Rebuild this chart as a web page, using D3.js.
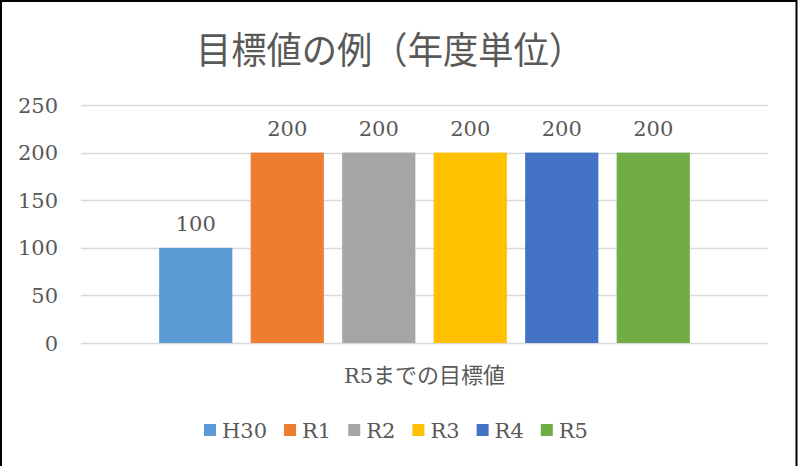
<!DOCTYPE html>
<html>
<head>
<meta charset="utf-8">
<script src="https://d3js.org/d3.v7.min.js"></script>
</head>
<body style="margin:0; background:#fff">
<div id="chart"></div>
<script>
// data
var categories = ["R5までの目標値"];
var series = ["H30", "R1", "R2", "R3", "R4", "R5"];
var values = [100, 200, 200, 200, 200, 200];
var colors = ["#5b9bd5", "#ed7d31", "#a5a5a5", "#ffc000", "#4472c4", "#70ad47"];
var yTicks = [0, 50, 100, 150, 200, 250];

var W = 798, H = 466;
var plot = {left: 81, right: 768, top: 105, bottom: 343};
var serif = "DejaVu Serif";
var jp = "Noto Sans CJK JP";
var textColor = "#595959";

var svg = d3.select("#chart").append("svg")
	.attr("width", W)
	.attr("height", H);

// outer border
svg.append("rect")
	.attr("x", 1).attr("y", 1)
	.attr("width", W - 2.5).attr("height", H + 5)
	.attr("fill", "#fff")
	.attr("stroke", "#000")
	.attr("stroke-width", 2);

// title
svg.append("text")
	.attr("x", 390)
	.attr("y", 64)
	.attr("text-anchor", "middle")
	.attr("font-family", jp)
	.attr("font-size", 37)
	.attr("fill", textColor)
	.attr("textLength", 388)
	.attr("lengthAdjust", "spacingAndGlyphs")
	.text("目標値の例（年度単位）");

var y = d3.scaleLinear().domain([0, 250]).range([plot.bottom, plot.top]);

var x0 = d3.scaleBand().domain(categories)
	.range([plot.left, plot.right])
	.paddingInner(0).paddingOuter(0.1257);

var x1 = d3.scaleBand().domain(series)
	.range([0, x0.bandwidth()])
	.paddingInner(0.2).paddingOuter(0.1);

// grid lines
svg.append("g").selectAll("line")
	.data(yTicks)
	.enter().append("line")
	.attr("x1", plot.left).attr("x2", plot.right)
	.attr("y1", function(d) { return Math.round(y(d)) + 0.5; })
	.attr("y2", function(d) { return Math.round(y(d)) + 0.5; })
	.attr("stroke", "#d9d9d9")
	.attr("stroke-width", 1.5);

// y axis labels
svg.append("g").selectAll("text")
	.data(yTicks)
	.enter().append("text")
	.attr("x", 58)
	.attr("y", function(d) { return y(d) + 7.5; })
	.attr("text-anchor", "end")
	.attr("font-family", serif)
	.attr("font-size", 21)
	.attr("fill", textColor)
	.text(function(d) { return d; });

// bars
var group = svg.append("g")
	.attr("transform", "translate(" + x0(categories[0]) + ",0)");

group.selectAll("rect")
	.data(series)
	.enter().append("rect")
	.attr("x", function(d) { return x1(d); })
	.attr("y", function(d, i) { return y(values[i]); })
	.attr("width", x1.bandwidth())
	.attr("height", function(d, i) { return y(0) - y(values[i]); })
	.attr("fill", function(d, i) { return colors[i]; });

// data labels
group.selectAll("text")
	.data(series)
	.enter().append("text")
	.attr("x", function(d) { return x1(d) + x1.bandwidth() / 2; })
	.attr("y", function(d, i) { return y(values[i]) - 17; })
	.attr("text-anchor", "middle")
	.attr("font-family", serif)
	.attr("font-size", 21)
	.attr("fill", textColor)
	.text(function(d, i) { return values[i]; });

// category label
var cat = svg.append("text")
	.attr("x", x0(categories[0]) + x0.bandwidth() / 2)
	.attr("y", 383)
	.attr("text-anchor", "middle")
	.attr("font-size", 21)
	.attr("fill", textColor);
cat.append("tspan").attr("font-family", serif).text(categories[0].slice(0, 2));
cat.append("tspan").attr("font-family", jp).attr("font-size", 22).text(categories[0].slice(2));

// legend
var legend = svg.append("g");
var lx = 204;
series.forEach(function(s, i) {
	legend.append("rect")
		.attr("x", lx).attr("y", 424)
		.attr("width", 12).attr("height", 12)
		.attr("fill", colors[i]);
	var t = legend.append("text")
		.attr("x", lx + 18)
		.attr("y", 437.5)
		.attr("font-family", serif)
		.attr("font-size", 21)
		.attr("fill", textColor)
		.text(s);
	lx += 18 + t.node().getComputedTextLength() + 17;
});
</script>
</body>
</html>
